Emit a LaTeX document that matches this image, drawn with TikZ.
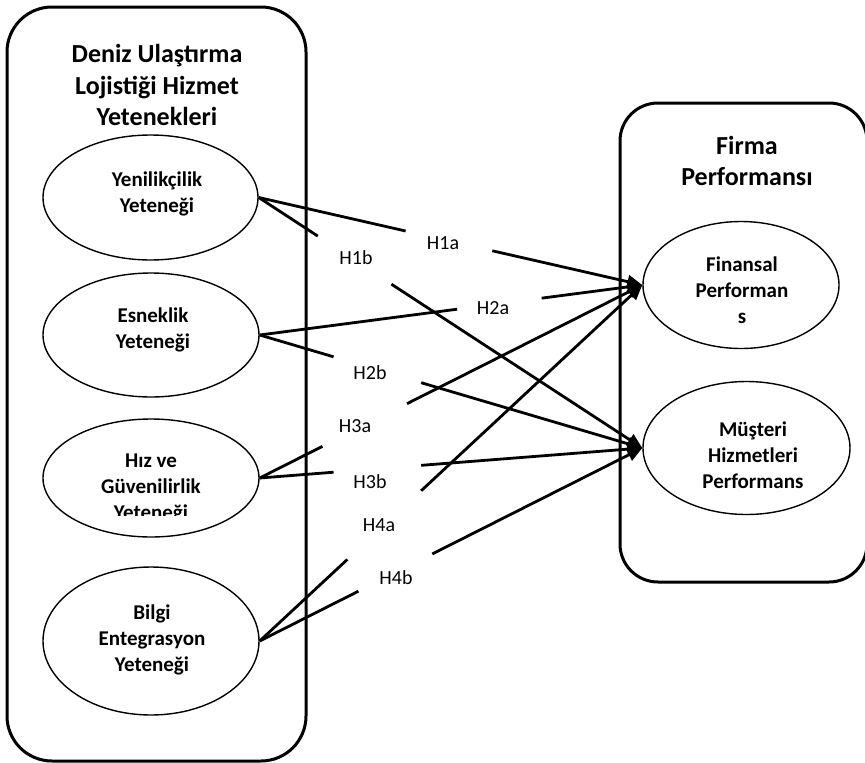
\documentclass[tikz,border=0pt]{standalone}
\usepackage{fontspec}
\setmainfont{Carlito}
\usetikzlibrary{arrows.meta,calc,shapes.geometric}
\newcommand\gapline[4]{%
  \draw[link] (#1) -- ($(#1)!#3!(#2)$);
  \draw[arr] ($(#1)!#4!(#2)$) -- (#2);}
\begin{document}
\begin{tikzpicture}[x=1pt,y=-1pt,
  frame/.style={draw,line width=3pt},
  construct/.style={draw,ellipse,line width=1.4pt,inner sep=0pt},
  ttl/.style={font=\fontsize{26}{31.5}\selectfont\bfseries,align=center,inner sep=0pt},
  etext/.style={font=\fontsize{21}{26}\selectfont\bfseries,align=center,inner sep=0pt},
  hyp/.style={font=\fontsize{20}{24}\selectfont,inner sep=0pt},
  link/.style={line width=2.8pt},
  arr/.style={line width=2.8pt,-{Triangle[length=15pt,width=13pt]}}]
\useasboundingbox (0,0) rectangle (865,763);
% frames
\draw[frame,rounded corners=45pt] (7,7) rectangle (306,761);
\draw[frame,rounded corners=38pt] (620,103) rectangle (867,582);
% titles
\node[ttl] (lt) at (157,85) {Deniz Ulaştırma\\Lojistiği Hizmet\\Yetenekleri};
\node[ttl] (rt) at (747,161) {Firma\\Performansı};
% ellipses
\node[construct,minimum width=215pt,minimum height=125pt] (e1) at (150.5,197.5) {};
\node[construct,minimum width=216pt,minimum height=124pt] (e2) at (151,335) {};
\node[construct,minimum width=216pt,minimum height=118pt] (e3) at (151,478) {};
\node[construct,minimum width=216pt,minimum height=148pt] (e4) at (151,641) {};
\node[construct,minimum width=196pt,minimum height=127pt] (fin) at (741,285) {};
\node[construct,minimum width=207pt,minimum height=133pt] (mus) at (746.5,448) {};
% ellipse texts
\node[etext] (t1) at (157,194) {Yenilikçilik\\Yeteneği};
\node[etext] (t2) at (153,330) {Esneklik\\Yeteneği};
\begin{scope}
\clip (0,0) rectangle (320,515);
\node[etext] (t3) at (151,488) {Hız ve\\Güvenilirlik\\Yeteneği};
\end{scope}
\node[etext] (t4) at (152,640) {Bilgi\\Entegrasyon\\Yeteneği};
\node[etext] (tf) at (742,290) {Finansal\\Performan\\s};
\node[etext] (tm) at (753,455) {Müşteri\\Hizmetleri\\Performans};
% connectors
\gapline{e1.east}{fin.west}{0.383}{0.609}
\gapline{e1.east}{mus.west}{0.154}{0.346}
\gapline{e2.east}{fin.west}{0.516}{0.737}
\gapline{e2.east}{mus.west}{0.193}{0.422}
\gapline{e3.east}{fin.west}{0.164}{0.385}
\gapline{e3.east}{mus.west}{0.193}{0.422}
\gapline{e4.east}{fin.west}{0.229}{0.422}
\gapline{e4.east}{mus.west}{0.258}{0.451}
% hypothesis labels
\node[hyp] (h1a) at (443,243) {H1a};
\node[hyp] (h1b) at (356,258) {H1b};
\node[hyp] (h2a) at (493,308) {H2a};
\node[hyp] (h2b) at (370,373) {H2b};
\node[hyp] (h3a) at (355,426) {H3a};
\node[hyp] (h3b) at (370,482) {H3b};
\node[hyp] (h4a) at (379,525) {H4a};
\node[hyp] (h4b) at (396,578) {H4b};
\end{tikzpicture}
\end{document}
